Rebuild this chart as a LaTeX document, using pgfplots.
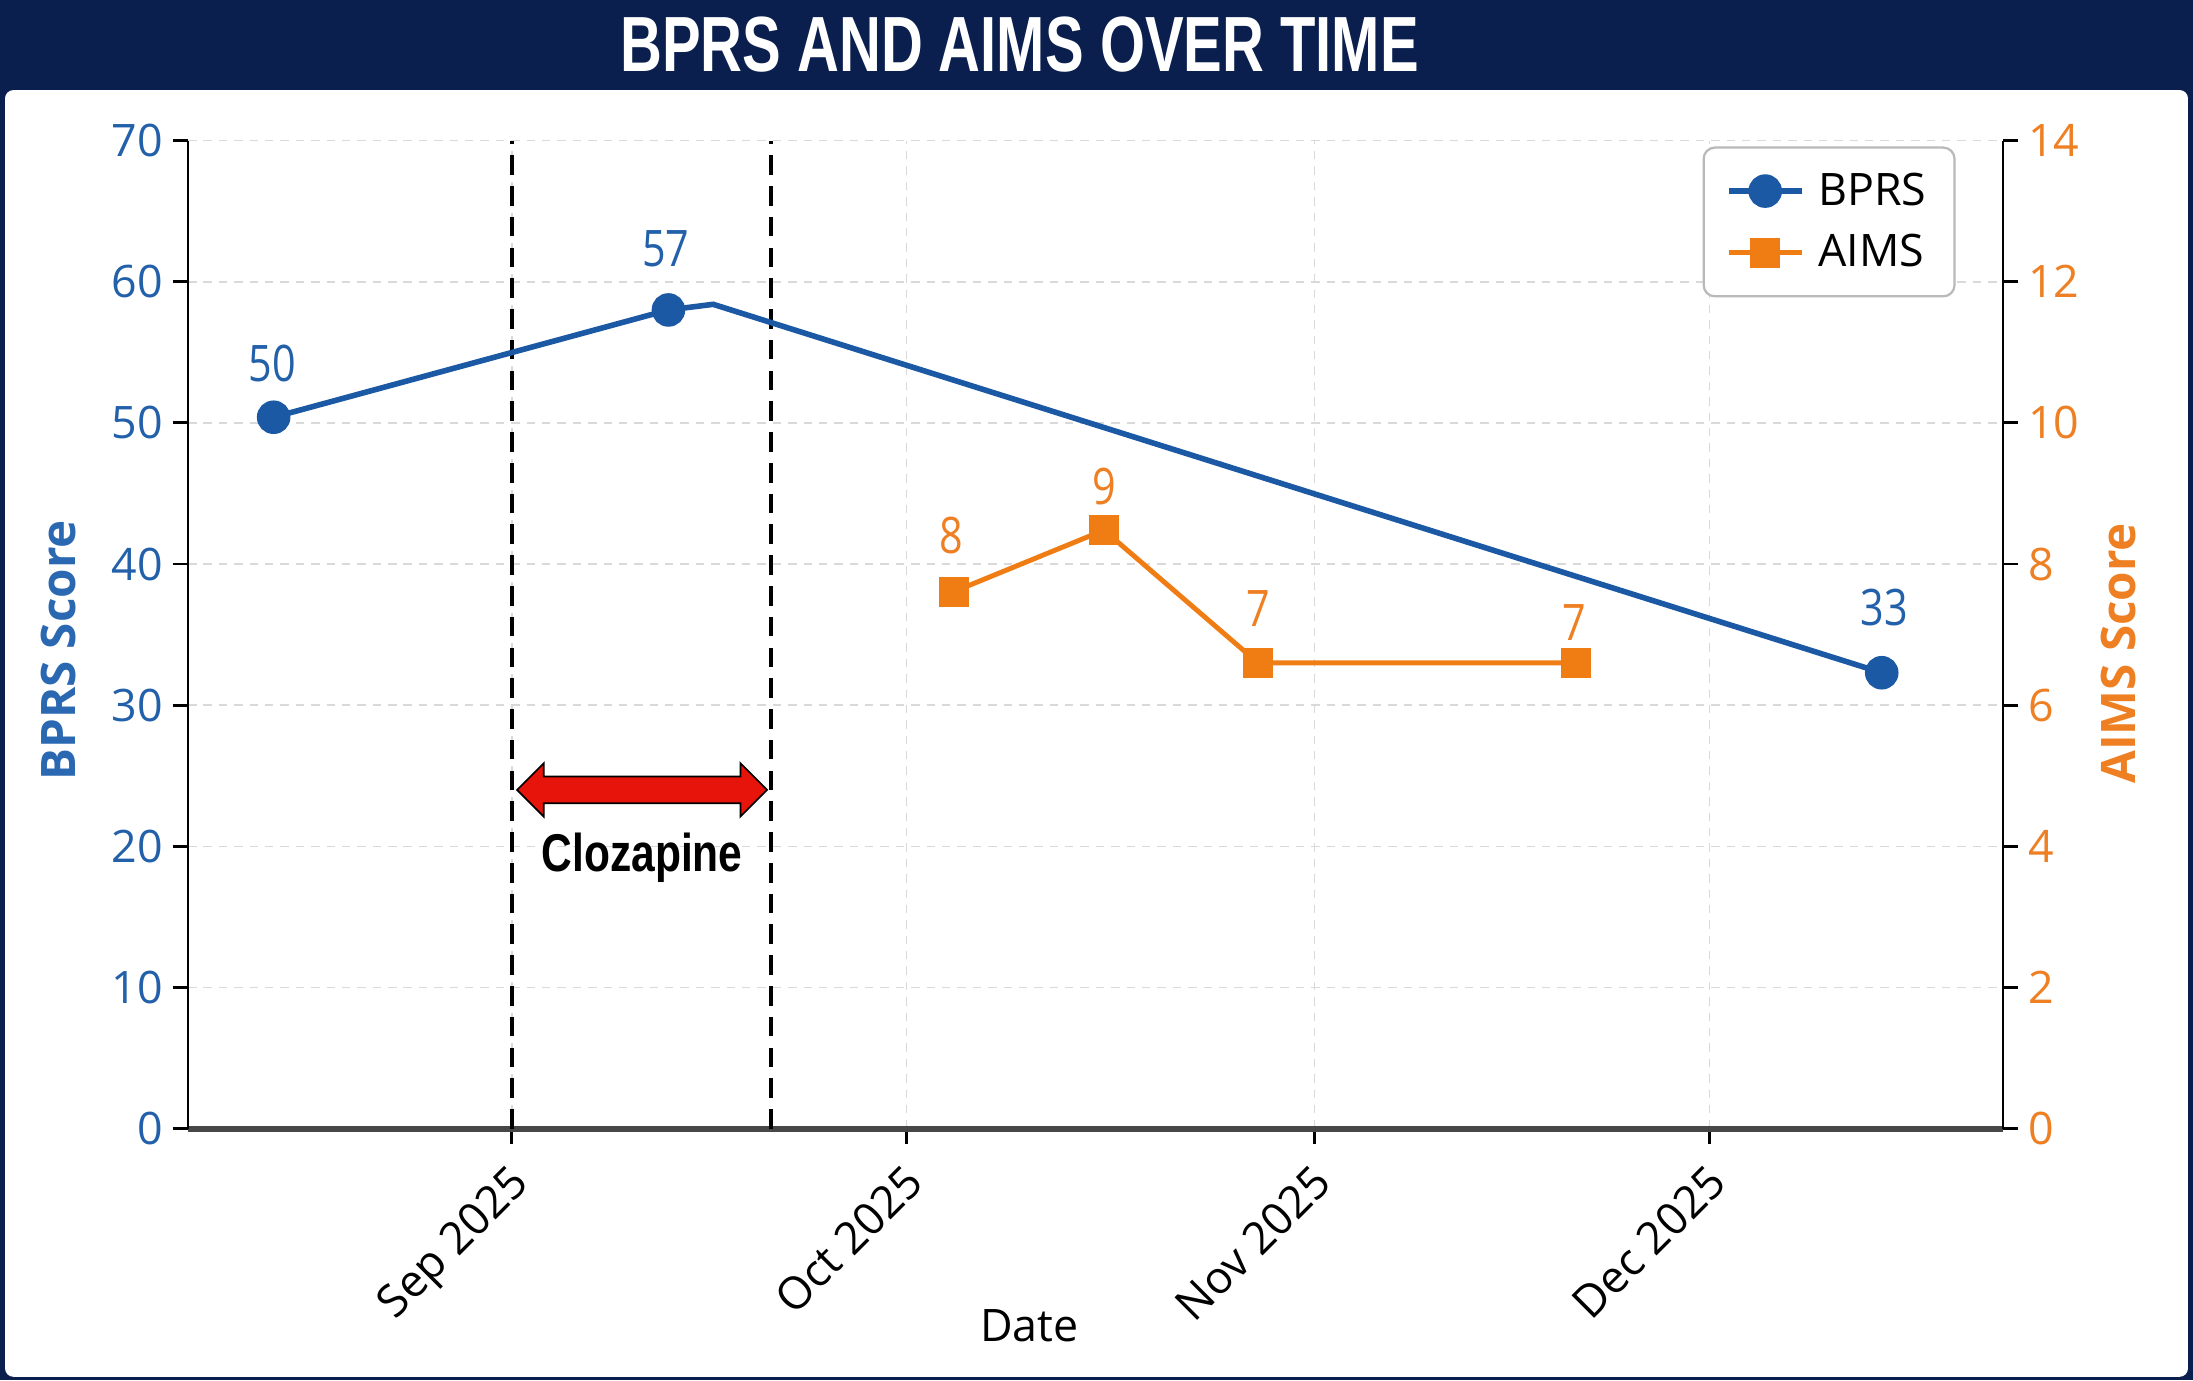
\documentclass[border=0pt]{standalone}
\usepackage{fontspec}
\setmainfont{Open Sans}
\newfontfamily\titlefont{Liberation Sans}
\usepackage{graphicx}
\usepackage{pgfplots}
\pgfplotsset{compat=1.18}
\usetikzlibrary{shapes.arrows}
\definecolor{navy}{HTML}{0B1F4F}
\definecolor{bprs}{HTML}{1C59A5}
\definecolor{bprstext}{HTML}{2360AA}
\definecolor{bprslabel}{HTML}{2B68B2}
\definecolor{aims}{HTML}{F07D14}
\definecolor{aimstext}{HTML}{EE7F22}
\definecolor{arrowred}{HTML}{E6140A}
\begin{document}
\begin{tikzpicture}
\useasboundingbox (0,0) rectangle (784pt,493.5pt);
\fill[navy] (0,0) rectangle (784pt,493.5pt);
\fill[white, rounded corners=3pt] (1.8pt,1.3pt) rectangle (782.2pt,461.3pt);
\node[text=white, anchor=center] at (364.5pt,477.5pt) {\scalebox{0.74}[1]{\titlefont\bfseries\fontsize{28}{30}\selectfont BPRS AND AIMS OVER TIME}};
\pgfplotsset{
  every axis/.append style={
    scale only axis, width=648.75pt, height=353.25pt,
    at={(67.25pt,90pt)}, anchor=south west,
    xmin=-24.6, xmax=113.3,
    /pgf/number format/assume math mode=true,
    tick align=outside, major tick length=5.5pt,
    tick style={black, line width=1pt},
  }
}
\begin{axis}[
  ymin=0, ymax=70, ytick={0,10,...,70},
  axis y line*=left, axis x line*=bottom,
  xtick={0,30,61,91}, xticklabels={Sep 2025,Oct 2025,Nov 2025,Dec 2025},
  xticklabel style={rotate=45, anchor=north east, xshift=-2pt, font=\fontsize{16}{18}\selectfont, text=black},
  yticklabel style={font=\fontsize{16}{18}\selectfont, text=bprstext},
  grid=major, major grid style={gray!30, line width=0.6pt, dash pattern=on 3pt off 2.5pt},
  x axis line style={line width=2.2pt, draw=black!72},
  y axis line style={line width=0.8pt, draw=black},
  xlabel={Date}, xlabel style={at={(axis description cs:0.4636,-0.1996)}, anchor=center, font=\fontsize{16}{18}\selectfont},
  ylabel={BPRS Score}, ylabel style={at={(axis description cs:-0.0713,0.484)}, anchor=center, font=\bfseries\fontsize{17}{20}\selectfont, text=bprslabel},
]
\addplot[black, line width=1.5pt, dash pattern=on 7pt off 4pt, forget plot] coordinates {(0,0) (0,70)};
\addplot[black, line width=1.5pt, dash pattern=on 7pt off 4pt, forget plot] coordinates {(19.7,0) (19.7,70)};
\addplot[bprs, line width=2pt, mark=*, mark size=5pt, mark options={solid, fill=bprs}, mark indices={1,2,4}] coordinates {(-18.1,50.4) (11.9,58.0) (15.3,58.4) (104.1,32.3)};
\node[text=bprstext, font=\fontsize{18}{20}\selectfont] at (axis cs:-18.2,54.2) {\scalebox{0.82}[1]{50}};
\node[text=bprstext, font=\fontsize{18}{20}\selectfont] at (axis cs:11.7,62.3) {\scalebox{0.82}[1]{57}};
\node[text=bprstext, font=\fontsize{18}{20}\selectfont] at (axis cs:104.3,36.9) {\scalebox{0.82}[1]{33}};
\node[double arrow, draw=black, line width=0.6pt, fill=arrowred, minimum height=89.4pt, text height=0pt, text depth=0pt, text width=0pt, inner xsep=0pt, inner ysep=4.5pt, double arrow head extend=4.75pt] at (axis cs:9.9,24) {};
\node[font={\titlefont\bfseries\fontsize{19}{21}\selectfont}] at (axis cs:9.9,19.2) {\scalebox{0.8}[1]{Clozapine}};
\end{axis}
\begin{axis}[
  ymin=0, ymax=14, ytick={0,2,...,14},
  axis y line*=right, axis x line=none,
  yticklabel style={font=\fontsize{16}{18}\selectfont, text=aimstext},
  y axis line style={line width=0.8pt, draw=black},
  ylabel={AIMS Score}, ylabel style={at={(axis description cs:1.064,0.481)}, anchor=center, font=\bfseries\fontsize{17}{20}\selectfont, text=aimstext},
  legend style={at={(0.974,0.994)}, anchor=north east, draw=gray!55, rounded corners=4pt, line width=0.8pt, font=\fontsize{16}{19}\selectfont, inner xsep=8pt, inner ysep=7pt, row sep=5pt},
  legend cell align=left,
  legend image code/.code={\draw[mark repeat=2, mark phase=2, #1] plot coordinates {(0pt,0pt) (13pt,0pt) (26pt,0pt)};},
]
\addlegendimage{bprs, line width=2pt, mark=*, mark size=5pt, mark options={solid, fill=bprs}}
\addlegendentry{\hspace{3pt}BPRS}
\addplot[aims, line width=1.75pt, mark=square*, mark size=4.5pt, mark options={solid, fill=aims}] coordinates {(33.6,7.61) (45.0,8.48) (56.7,6.60) (80.9,6.60)};
\addlegendentry{\hspace{3pt}AIMS}
\node[text=aimstext, font=\fontsize{18}{20}\selectfont] at (axis cs:33.4,8.40) {\scalebox{0.82}[1]{8}};
\node[text=aimstext, font=\fontsize{18}{20}\selectfont] at (axis cs:45.0,9.10) {\scalebox{0.82}[1]{9}};
\node[text=aimstext, font=\fontsize{18}{20}\selectfont] at (axis cs:56.7,7.37) {\scalebox{0.82}[1]{7}};
\node[text=aimstext, font=\fontsize{18}{20}\selectfont] at (axis cs:80.7,7.17) {\scalebox{0.82}[1]{7}};
\end{axis}
\end{tikzpicture}
\end{document}
